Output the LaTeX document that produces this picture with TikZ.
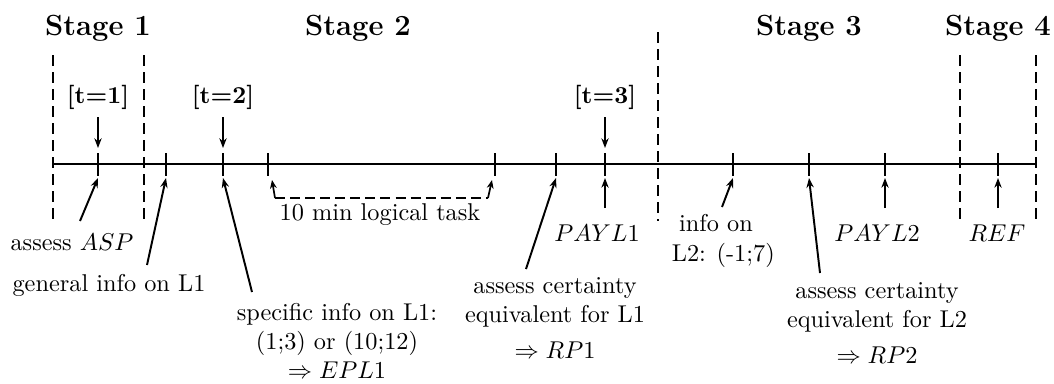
\documentclass[tikz,border=0pt]{standalone}
\usetikzlibrary{arrows.meta}
\begin{document}
\begin{tikzpicture}[x=0.4115pt,y=-0.4115pt,
  axis/.style={line width=0.8pt},
  tickmark/.style={line width=0.8pt},
  sep/.style={line width=0.8pt, dash pattern=on 4.5pt off 2.5pt},
  bracket/.style={line width=0.7pt, dash pattern=on 4.1pt off 2.1pt},
  arr/.style={line width=0.8pt,-{Stealth[length=4pt,width=3pt]}},
  stagelbl/.style={font=\large\bfseries, inner sep=0pt},
  tlbl/.style={font=\bfseries, inner sep=0pt},
  lbl/.style={align=center, inner sep=0pt}]
\useasboundingbox (0,0) rectangle (1054,383);
% stage separators
\draw[sep] (53,55) -- (53,221);
\draw[sep] (144,55) -- (144,221);
\draw[sep] (658,32) -- (658,221);
\draw[sep] (960,55) -- (960,221);
\draw[sep] (1036,55) -- (1036,221);
% axis
\coordinate (axL) at (53,164);
\coordinate (axR) at (1036,164);
\draw[axis] (axL) -- (axR);
% ticks
\foreach \n/\x in {a/98,b/166,c/223,d/268,e/495,f/556,g/605,h/733,i/809,j/885,k/998}{
  \draw[tickmark] (\x,153) -- (\x,176);
  \coordinate (top\n) at (\x,148);
  \coordinate (bot\n) at (\x,178);
}
% stage labels
\node[stagelbl] (s1) at (98,28) {Stage 1};
\node[stagelbl] (s2) at (358,28) {Stage 2};
\node[stagelbl] (s3) at (809,28) {Stage 3};
\node[stagelbl] (s4) at (998,28) {Stage 4};
% time labels
\node[tlbl] (t1) at (98,97) {[t=1]};
\node[tlbl] (t2) at (223,97) {[t=2]};
\node[tlbl] (t3) at (605,97) {[t=3]};
\coordinate (t1s) at (98,117);
\coordinate (t2s) at (223,117);
\coordinate (t3s) at (605,117);
\draw[arr] (t1s) -- (topa);
\draw[arr] (t2s) -- (topc);
\draw[arr] (t3s) -- (topg);
% bottom labels
\node[lbl] (asp) at (72,242) {assess $ASP$};
\coordinate (aspS) at (80,221);
\draw[arr] (aspS) -- (bota);
\node[lbl] (gen) at (109,285) {general info on L1};
\coordinate (genS) at (147,265);
\draw[arr] (genS) -- (botb);
\node[lbl] (spec) at (337,341) {specific info on L1:\\(1;3) or (10;12)\\$\Rightarrow EPL1$};
\coordinate (specS) at (252,292);
\draw[arr] (specS) -- (botc);
% 10 min task bracket
\coordinate (brL) at (275,198);
\coordinate (brR) at (488,198);
\coordinate (brLt) at (272,180);
\coordinate (brRt) at (492,180);
\draw[bracket] (brL) -- (brR);
\draw[line width=0.7pt,-{Stealth[length=3.5pt,width=2.8pt]}] (brL) -- (brLt);
\draw[line width=0.7pt,-{Stealth[length=3.5pt,width=2.8pt]}] (brR) -- (brRt);
\node[lbl] (task) at (380,215) {10 min logical task};
\node[lbl] (ce1) at (555,318) {assess certainty\\equivalent for L1\\[3pt]$\Rightarrow RP1$};
\coordinate (ce1S) at (526,269);
\draw[arr] (ce1S) -- (botf);
\node[lbl] (pay1) at (597,233) {$PAYL1$};
\coordinate (pay1S) at (605,208);
\draw[arr] (pay1S) -- (botg);
\node[lbl] (inf2) at (716,241) {info on\\\hspace*{6pt}L2: (-1;7)};
\coordinate (inf2S) at (722,207);
\draw[arr] (inf2S) -- (both);
\node[lbl] (ce2) at (877,323) {assess certainty\\equivalent for L2\\[3pt]$\Rightarrow RP2$};
\coordinate (ce2S) at (820,273);
\draw[arr] (ce2S) -- (boti);
\node[lbl] (pay2) at (877,233) {$PAYL2$};
\coordinate (pay2S) at (885,208);
\draw[arr] (pay2S) -- (botj);
\node[lbl] (ref) at (997,233) {$REF$};
\coordinate (refS) at (998,208);
\draw[arr] (refS) -- (botk);
\end{tikzpicture}
\end{document}
